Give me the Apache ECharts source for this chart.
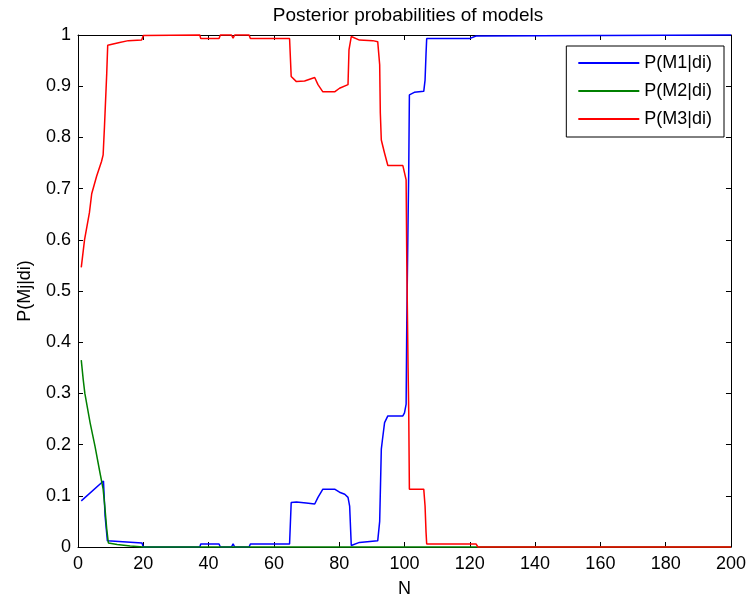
<!DOCTYPE html>
<html>
<head>
<meta charset="utf-8">
<script src="https://cdn.jsdelivr.net/npm/echarts@6/dist/echarts.min.js"></script>
<style>
  html, body { margin: 0; padding: 0; background: #fff; }
  #chart { width: 749px; height: 603px; }
</style>
</head>
<body>
<div id="chart"></div>
<script>
// values (N, probability)
const m1N = [1, 7.8, 8.3, 9.0, 9.5, 19.6, 20, 37.3, 37.6, 43.2, 43.6, 47, 47.5, 48, 52.4, 52.8, 64.8, 65.3, 66.9, 69.9, 72.5, 73.5, 75, 78.6, 80.1, 81.7, 82.7, 83.2, 83.7, 84.2, 86.2, 91.8, 92.4, 92.9, 93.2, 93.9, 94.9, 99.5, 100, 100.5, 100.7, 101.1, 101.3, 101.5, 103, 105.9, 106.3, 106.6, 106.8, 119.9, 121.9, 122.5, 200];
const m1P = [0.09, 0.129, 0.06, 0.012, 0.009, 0.008, 0, 0, 0.006, 0.006, 0, 0, 0.006, 0, 0, 0.006, 0.006, 0.087, 0.088, 0.086, 0.084, 0.097, 0.113, 0.113, 0.107, 0.103, 0.097, 0.08, 0.003, 0.004, 0.009, 0.012, 0.05, 0.191, 0.207, 0.243, 0.256, 0.256, 0.262, 0.279, 0.438, 0.64, 0.737, 0.883, 0.888, 0.89, 0.912, 0.964, 0.993, 0.993, 0.998, 1, 1];

const m2N = [1, 1.6, 2.1, 3.7, 5.2, 6.7, 7.7, 8.2, 8.8, 9.3, 12, 16, 20, 200];
const m2P = [0.365, 0.327, 0.3, 0.243, 0.197, 0.146, 0.113, 0.08, 0.035, 0.008, 0.005, 0.002, 0, 0];

const m3N = [1, 2, 3.5, 4.2, 5.7, 7.2, 7.7, 8.1, 8.8, 9.1, 12.4, 15.4, 19.5, 20, 37.3, 37.6, 43.2, 43.6, 47, 47.5, 48, 52.4, 52.8, 64.8, 65.3, 66.9, 69.4, 69.9, 72.5, 73.5, 75, 78.6, 80.1, 82.7, 83.0, 83.7, 86.2, 90.3, 91.8, 92.4, 92.6, 92.9, 93.9, 94.9, 99.5, 100.5, 100.7, 101.1, 101.3, 101.5, 105.9, 106.3, 106.6, 106.8, 121.9, 122.5, 200];
const m3P = [0.546, 0.6, 0.653, 0.69, 0.724, 0.753, 0.766, 0.82, 0.925, 0.98, 0.985, 0.989, 0.99, 0.999, 1, 0.993, 0.993, 1, 1, 0.994, 1, 1, 0.993, 0.993, 0.919, 0.909, 0.91, 0.913, 0.917, 0.903, 0.889, 0.889, 0.896, 0.903, 0.971, 0.997, 0.99, 0.989, 0.987, 0.942, 0.847, 0.795, 0.769, 0.745, 0.745, 0.717, 0.56, 0.35, 0.263, 0.113, 0.113, 0.08, 0.029, 0.006, 0.006, 0, 0];

const seriesNames = ["P(M1|di)", "P(M2|di)", "P(M3|di)"];
const seriesColors = ["#0000ff", "#008000", "#ff0000"];

const FONT = "'Liberation Sans', Arial, sans-serif";
const TEXT_COLOR = "#000";

const toPairs = (xs, ys) => xs.map((x, i) => [x, ys[i]]);
const seriesData = [toPairs(m1N, m1P), toPairs(m2N, m2P), toPairs(m3N, m3P)];

const chart = echarts.init(document.getElementById("chart"));

const axisLine = { show: true, onZero: false, lineStyle: { color: "#000", width: 1 } };
const axisTick = { show: true, inside: true, length: 5, lineStyle: { color: "#000", width: 1 } };

const option = {
  backgroundColor: "#fff",
  animation: false,
  title: {
    text: "Posterior probabilities of models",
    left: 403,
    textAlign: "center",
    top: 1,
    textStyle: { fontFamily: FONT, fontSize: 19, fontWeight: "normal", color: TEXT_COLOR },
  },
  legend: {
    data: seriesNames,
    orient: "vertical",
    right: 25,
    top: 46,
    padding: [8, 12, 9, 11],
    itemWidth: 61,
    itemHeight: 14,
    itemGap: 10,
    backgroundColor: "#fff",
    borderColor: "#000",
    borderWidth: 1,
    borderRadius: 0,
    itemStyle: { opacity: 0 },
    textStyle: { fontFamily: FONT, fontSize: 18, color: TEXT_COLOR },
  },
  grid: { left: 78, right: 17, top: 35, bottom: 55 },
  xAxis: [
    {
      type: "value",
      position: "bottom",
      min: 0,
      max: 200,
      interval: 20,
      name: "N",
      nameLocation: "middle",
      nameGap: 33,
      nameTextStyle: { fontFamily: FONT, fontSize: 18, color: TEXT_COLOR },
      axisLine: axisLine,
      axisTick: axisTick,
      splitLine: { show: false },
      axisLabel: { fontFamily: FONT, fontSize: 18, color: TEXT_COLOR, margin: 8, showMinLabel: true, showMaxLabel: true },
    },
    {
      type: "value",
      position: "top",
      min: 0,
      max: 200,
      interval: 20,
      axisLine: axisLine,
      axisTick: axisTick,
      splitLine: { show: false },
      axisLabel: { show: false },
    },
  ],
  yAxis: [
    {
      type: "value",
      position: "left",
      min: 0,
      max: 1,
      interval: 0.1,
      name: "P(Mj|di)",
      nameLocation: "middle",
      nameGap: 44,
      nameTextStyle: { fontFamily: FONT, fontSize: 18, color: TEXT_COLOR },
      axisLine: axisLine,
      axisTick: axisTick,
      splitLine: { show: false },
      axisLabel: {
        fontFamily: FONT,
        fontSize: 18,
        color: TEXT_COLOR,
        margin: 7,
        showMinLabel: true,
        showMaxLabel: true,
        formatter: (v) => String(Math.round(v * 10) / 10),
      },
    },
    {
      type: "value",
      position: "right",
      min: 0,
      max: 1,
      interval: 0.1,
      axisLine: axisLine,
      axisTick: axisTick,
      splitLine: { show: false },
      axisLabel: { show: false },
    },
  ],
  series: seriesNames.map((name, i) => ({
    name: name,
    type: "line",
    xAxisIndex: 0,
    yAxisIndex: 0,
    symbol: "none",
    clip: false,
    itemStyle: { color: seriesColors[i] },
    lineStyle: { color: seriesColors[i], width: 1.5 },
    data: seriesData[i],
  })),
};

chart.setOption(option);
</script>
</body>
</html>
